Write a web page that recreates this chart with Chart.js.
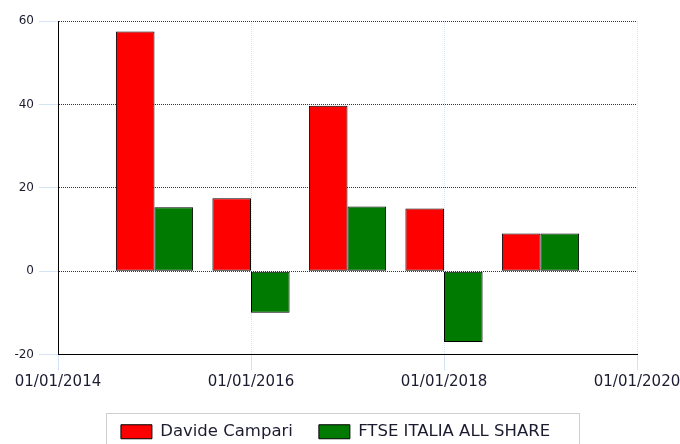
<!DOCTYPE html>
<html>
<head>
<meta charset="utf-8">
<script src="https://cdn.jsdelivr.net/npm/chart.js@4"></script>
<style>
  html, body { margin: 0; padding: 0; background: #fff; }
</style>
</head>
<body>
<canvas id="myChart" width="680" height="444"></canvas>
<script>
// Données
const years = [2015, 2016, 2017, 2018, 2019];
const campari = [57.5, 17.5, 39.7, 15, 9];
const ftse = [15.3, -10, 15.5, -17, 9];
const yTicks = [-20, 0, 20, 40, 60];
const xTicks = [2014, 2016, 2018, 2020];

const textColor = '#1c1c30';
const font = 'DejaVu Sans';

// Cadre gris autour de la légende + petit décalage à droite
const legendFrame = {
  id: 'legendFrame',
  afterLayout(chart) {
    chart.legend.left += 17;
    chart.legend.right += 17;
  },
  afterDraw(chart) {
    const boxes = chart.legend.legendHitBoxes;
    if (!boxes || !boxes.length) return;
    const first = boxes[0];
    const last = boxes[boxes.length - 1];
    const ctx = chart.ctx;
    ctx.save();
    ctx.strokeStyle = '#cfcfcf';
    ctx.lineWidth = 1;
    const left = Math.round(first.left - 15) + 0.5;
    const right = Math.round(last.left + last.width + 29) + 0.5;
    const top = Math.round(first.top - 11) + 0.5;
    ctx.strokeRect(left, top, right - left, 60);
    ctx.restore();
  }
};

const ctx = document.getElementById('myChart').getContext('2d');
const myChart = new Chart(ctx, {
  type: 'bar',
  data: {
    datasets: [{
      label: 'Davide Campari',
      data: years.map((y, i) => ({ x: y, y: campari[i] })),
      backgroundColor: '#ff0000',
      borderColor: '#000000',
      borderWidth: 1,
      borderSkipped: false
    }, {
      label: 'FTSE ITALIA ALL SHARE',
      data: years.map((y, i) => ({ x: y, y: ftse[i] })),
      backgroundColor: '#007a00',
      borderColor: '#000000',
      borderWidth: 1,
      borderSkipped: false
    }]
  },
  options: {
    responsive: false,
    animation: false,
    categoryPercentage: 0.8,
    barPercentage: 1.0,
    layout: { padding: { left: 0, right: 43, top: 21, bottom: -6 } },
    scales: {
      x: {
        type: 'linear',
        offset: false,
        min: 2014,
        max: 2020,
        afterBuildTicks: (scale) => { scale.ticks = xTicks.map(v => ({ value: v })); },
        afterFit: (scale) => {
          scale.height = 43;
          scale.paddingLeft = 0;
          scale.paddingRight = 0;
        },
        ticks: {
          callback: (v) => '01/01/' + v,
          color: textColor,
          font: { family: font, size: 15 },
          padding: 3,
          maxRotation: 0
        },
        grid: {
          offset: false,
          color: '#d3e2f4',
          tickColor: '#d3e2f4',
          tickLength: 16
        },
        border: { color: '#000', width: 1, dash: [1, 1] }
      },
      y: {
        min: -20,
        max: 60,
        afterBuildTicks: (scale) => { scale.ticks = yTicks.map(v => ({ value: v })); },
        afterFit: (scale) => { scale.width = 58; },
        ticks: {
          color: textColor,
          font: { family: font, size: 12 },
          padding: 5
        },
        grid: {
          color: '#333',
          tickColor: '#d6e5f6',
          tickLength: 19
        },
        border: { color: '#000', width: 1, dash: [1, 1] }
      }
    },
    plugins: {
      legend: {
        position: 'bottom',
        labels: {
          boxWidth: 31,
          boxHeight: 14,
          padding: 26,
          color: textColor,
          font: { family: font, size: 16.5 }
        }
      },
      tooltip: { enabled: false }
    }
  },
  plugins: [legendFrame]
});
</script>
</body>
</html>
